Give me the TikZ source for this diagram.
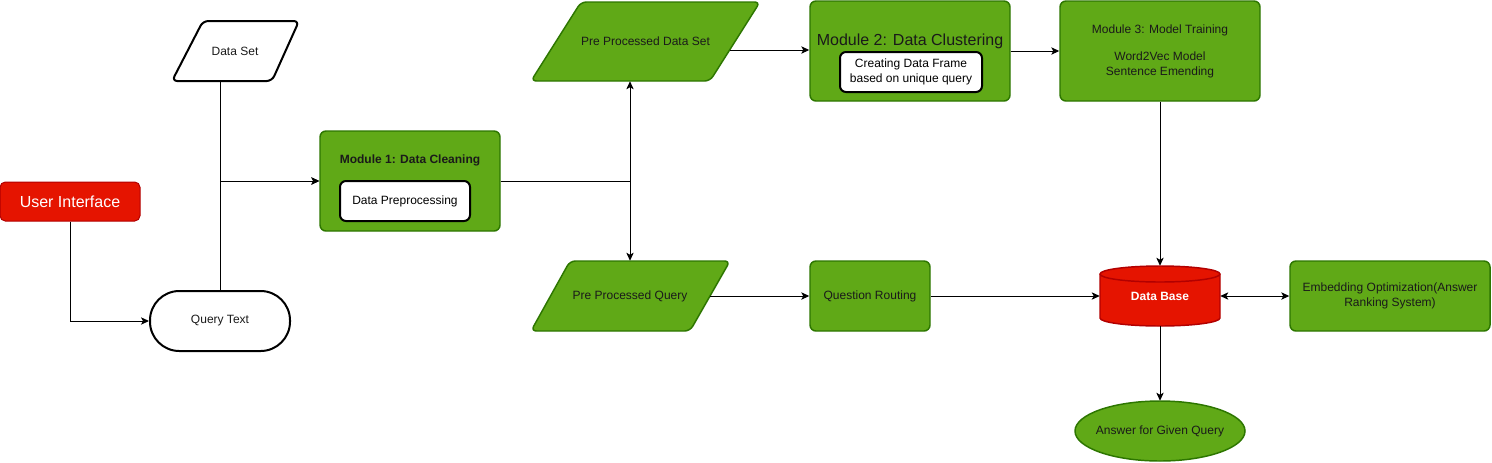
\documentclass[tikz,border=0pt]{standalone}
\usepackage{fontspec}
\setmainfont{Liberation Sans}
\usetikzlibrary{shapes.geometric,arrows.meta}
\definecolor{gfill}{HTML}{60A917}
\definecolor{gline}{HTML}{2D7600}
\definecolor{rfill}{HTML}{E51400}
\definecolor{rline}{HTML}{B20000}
\definecolor{txt}{HTML}{1A1A1A}
\begin{document}
\begin{tikzpicture}[x=0.75pt,y=-0.75pt,
 font=\fontsize{9}{11}\selectfont,
 greenbox/.style={draw=gline, fill=gfill, line width=1.1pt, rounded corners=4.5pt, text=txt, align=center, inner sep=0pt},
 whitebox/.style={draw=black, fill=white, line width=1.5pt, rounded corners=4.5pt, align=center, inner sep=0pt},
 lbl/.style={inner sep=0pt, align=center, text=txt},
 shapebox/.style={inner sep=0pt, align=center, text=txt},
 conn/.style={line width=0.75pt, -{Stealth[length=6pt,width=5.5pt,inset=1.5pt]}},
 conn2/.style={line width=0.75pt, {Stealth[length=6pt,width=5.5pt,inset=1.5pt]}-{Stealth[length=6pt,width=5.5pt,inset=1.5pt]}},
 plain/.style={line width=0.75pt},
]
\useasboundingbox (0,0) rectangle (1492,462);

% User Interface
\node[draw=rline, fill=rfill, line width=0.75pt, rounded corners=4pt, minimum width=105pt, minimum height=29.25pt, inner sep=0pt, text=white, font=\fontsize{12}{14}\selectfont] (ui) at (70,201.5) {User Interface};

% Data Set (parallelogram)
\draw[line width=1.5pt, rounded corners=4pt, fill=white] (203,21) -- (299,21) -- (272,81) -- (172,81) -- cycle;
\node[shapebox, minimum width=95.25pt, minimum height=45pt] (ds) at (235,51) {Data Set};

% Query Text
\node[draw=black, fill=white, line width=1.5pt, rounded corners=22pt, minimum width=105pt, minimum height=45pt, inner sep=0pt, text=txt] (qt) at (220,321) {Query Text};

% Module 1
\node[greenbox, minimum width=135pt, minimum height=75pt] (m1) at (410,181) {};
\node[lbl, font=\fontsize{9}{11}\selectfont\bfseries] (m1t) at (410,160) {Module 1: Data Cleaning};
\node[whitebox, minimum width=97.5pt, minimum height=30pt] (ib1) at (405,201) {Data Preprocessing};

% Pre Processed Data Set
\draw[draw=gline, fill=gfill, line width=1.1pt, rounded corners=4pt] (581,2) -- (760,2) -- (710,81) -- (531,81) -- cycle;
\node[shapebox, minimum width=171.75pt, minimum height=59.25pt] (pds) at (645.5,41.5) {Pre Processed Data Set};

% Module 2
\node[greenbox, minimum width=150pt, minimum height=75pt] (m2) at (910,51) {};
\node[lbl, font=\fontsize{12}{14}\selectfont] (m2t) at (910,41) {Module 2: Data Clustering};
\node[whitebox, minimum width=106.5pt, minimum height=30pt, font=\fontsize{9}{11.5}\selectfont] (ib2) at (911,72) {Creating Data Frame\\based on unique query};

% Module 3
\node[greenbox, minimum width=150pt, minimum height=75pt] (m3) at (1160,51) {};
\node[lbl] (m3t) at (1160,30) {Module 3: Model Training};
\node[lbl, font=\fontsize{9}{11.25}\selectfont] (m3b) at (1160,64.5) {Word2Vec Model\\Sentence Emending};

% Pre Processed Query
\draw[draw=gline, fill=gfill, line width=1.1pt, rounded corners=4pt] (570,261) -- (730,261) -- (690,331) -- (531,331) -- cycle;
\node[shapebox, minimum width=149.25pt, minimum height=52.5pt] (ppq) at (630,296) {Pre Processed Query};

% Question Routing
\node[greenbox, minimum width=90pt, minimum height=52.5pt] (qr) at (870,296) {Question Routing};

% Data Base cylinder
\draw[draw=rline, fill=rfill, line width=1.1pt] (1100,274) -- (1100,318) arc[start angle=180, end angle=360, x radius=45pt, y radius=6pt] -- (1220,274) arc[start angle=0, end angle=180, x radius=45pt, y radius=6pt] -- cycle;
\draw[draw=rline, line width=1.1pt] (1100,274) arc[start angle=180, end angle=360, x radius=45pt, y radius=6pt];
\node[inner sep=0pt, minimum width=90pt, minimum height=45pt, text=white, font=\fontsize{9}{11}\selectfont\bfseries] (db) at (1160,296) {Data Base};

% Embedding Optimization
\node[greenbox, minimum width=150pt, minimum height=52.5pt] (eo) at (1390,296) {Embedding Optimization(Answer\\Ranking System)};

% Answer
\draw[draw=gline, fill=gfill, line width=1.1pt] (1160,431) ellipse[x radius=63.75pt, y radius=22.5pt];
\node[shapebox, minimum width=127.5pt, minimum height=45pt] (ans) at (1160,431) {Answer for Given Query};

% Connectors
\draw[conn] (ui.south) |- (qt.west);
\draw[conn] (ds.south -| qt.north) |- (m1.west);
\draw[conn] (qt.north) |- (m1.west);
\coordinate (j) at (630,181);
\draw[plain] (m1.east) -- (j);
\draw[conn] (j) -- (pds.south -| j);
\draw[conn] (j) -- (ppq.north);
\coordinate (pdsout) at (730,50);
\draw[conn] (pdsout) -- (pdsout -| m2.west);
\draw[conn] (m2.east) -- (m3.west);
\draw[conn] (m3.south) -- (db.north);
\coordinate (ppqout) at (710,296);
\draw[conn] (ppqout) -- (qr.west);
\draw[conn] (qr.east) -- (db.west);
\draw[conn2] (db.east) -- (eo.west);
\draw[conn] (db.south) -- (ans.north);
\end{tikzpicture}
\end{document}
